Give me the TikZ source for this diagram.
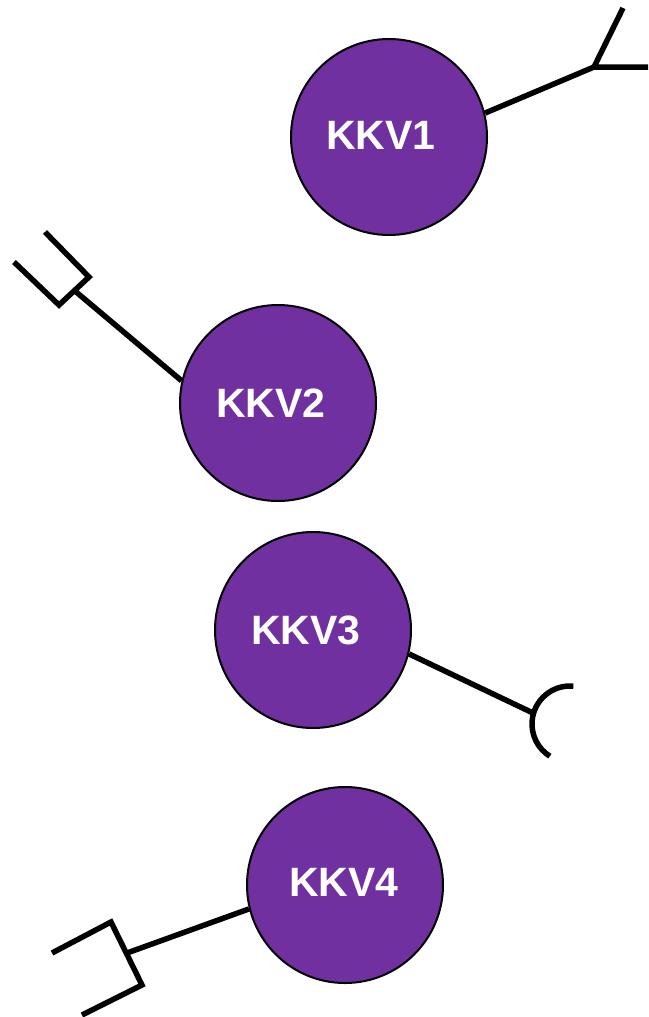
\documentclass[tikz,border=0pt]{standalone}
\usepackage{fontspec}
\setmainfont{Liberation Sans}
\definecolor{kkvpurple}{HTML}{7030A0}
\begin{document}
\begin{tikzpicture}[x=1pt,y=-1pt,
  kkv/.style={circle,draw=black,line width=2pt,fill=kkvpurple,minimum size=196pt,inner sep=0pt},
  kkvtext/.style={text=white,font=\fontsize{41}{41}\selectfont\bfseries,inner sep=0pt},
  link/.style={line width=5.5pt,draw=black}]
\useasboundingbox (0,0) rectangle (648,1017);
% circles
\node[kkv] (k1) at (389,137) {};
\node[kkv] (k2) at (278,403) {};
\node[kkv] (k3) at (313,630) {};
\node[kkv] (k4) at (345,885) {};
\node[kkvtext] (t1) at (381,135) {KKV1};
\node[kkvtext] (t2) at (271,403) {KKV2};
\node[kkvtext] (t3) at (306,630) {KKV3};
\node[kkvtext] (t4) at (344,882) {KKV4};
% KKV1: Y-shaped end
\coordinate (j1) at (594,67);
\coordinate (y1a) at (623,8);
\coordinate (y1b) at (648,67);
\draw[link] (k1.14) -- (j1);
\draw[link] (y1a) -- (j1) -- (y1b);
% KKV2: fork end
\coordinate (j2) at (75,291);
\coordinate (f2a) at (59,305);
\coordinate (f2b) at (89,277);
\coordinate (p2a) at (14,262);
\coordinate (p2b) at (45,232);
\draw[link] (k2.167) -- (j2);
\draw[link] (p2a) -- (f2a) -- (f2b) -- (p2b);
% KKV3: cup end
\coordinate (j3) at (533,713);
\coordinate (a3) at (570,724);
\draw[link] (k3.-14) -- (j3);
\draw[link] (a3) ++(-85:38) arc[start angle=-85,end angle=-238,radius=38];
% KKV4: bracket end
\coordinate (j4) at (127,953);
\coordinate (b4a) at (111,922);
\coordinate (b4b) at (142,985);
\coordinate (p4a) at (52,953);
\coordinate (p4b) at (82,1015);
\draw[link] (k4.194) -- (j4);
\draw[link] (p4a) -- (b4a) -- (b4b) -- (p4b);
\end{tikzpicture}
\end{document}
